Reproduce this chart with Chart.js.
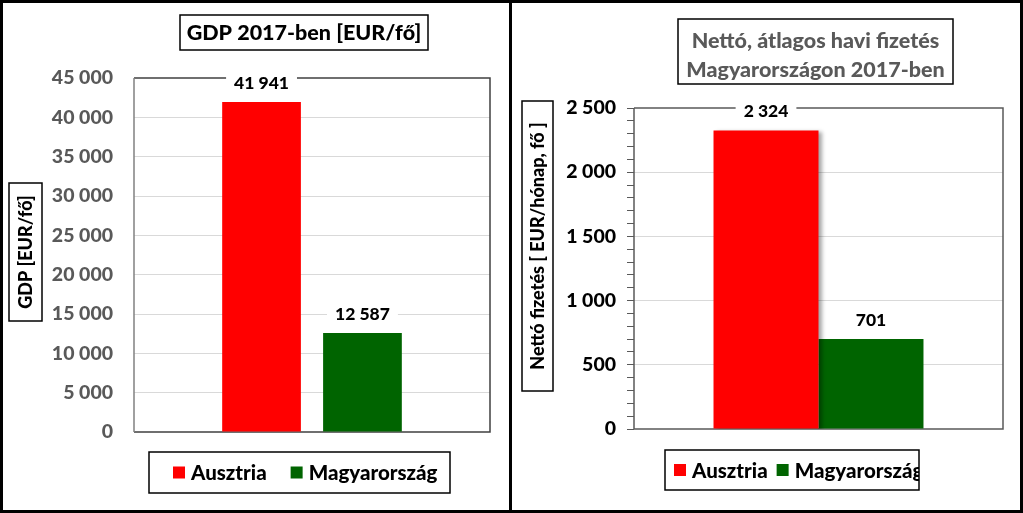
<!DOCTYPE html>
<html>
<head>
<meta charset="utf-8">
<script src="https://cdn.jsdelivr.net/npm/chart.js@4/dist/chart.umd.min.js"></script>
<style>
  body { margin: 0; background: #fff; }
  .panel { position: absolute; top: 0; height: 513px; border: 3px solid #000; box-sizing: border-box; background: #fff; }
  #p1 { left: 0; width: 512px; }
  #p2 { left: 509px; width: 514px; }
  canvas { display: block; }
</style>
</head>
<body>
<div class="panel" id="p1"><canvas id="gdp" width="506" height="507"></canvas></div>
<div class="panel" id="p2"><canvas id="ber" width="508" height="507"></canvas></div>
<script>
// adatok
const categories = ['2017'];
const seriesNames = ['Ausztria', 'Magyarország'];
const seriesColors = ['#ff0000', '#006400'];
const gdpAusztria = [41941];
const gdpMagyarorszag = [12587];
const berAusztria = [2324];
const berMagyarorszag = [701];
const gdpTicks = [0, 5000, 10000, 15000, 20000, 25000, 30000, 35000, 40000, 45000];
const berTicks = [0, 500, 1000, 1500, 2000, 2500];

const FONT = 'Lato, "Open Sans", sans-serif';
const W = '900 ';

function fmt(v) {
  return String(v).replace(/\B(?=(\d{3})+(?!\d))/g, ' ');
}

// keret, adatfeliratok, cim, tengelycim, jelmagyarazat
const deco = {
  id: 'deco',
  beforeDatasetsDraw(chart, args, o) {
    const { ctx, chartArea: a } = chart;
    ctx.save();
    ctx.lineWidth = 1.5;
    ctx.strokeStyle = o.frame;
    ctx.beginPath();
    ctx.moveTo(a.left, a.top);
    ctx.lineTo(a.right, a.top);
    ctx.lineTo(a.right, a.bottom);
    ctx.lineTo(a.left, a.bottom);
    ctx.stroke();
    ctx.strokeStyle = o.axis;
    ctx.beginPath();
    ctx.moveTo(a.left, a.top);
    ctx.lineTo(a.left, a.bottom);
    ctx.stroke();
    ctx.restore();
  },
  beforeDatasetDraw(chart, args, o) {
    if (o.shadow && args.index === 0) {
      const ctx = chart.ctx;
      ctx.save();
      ctx.shadowColor = 'rgba(0,0,0,0.35)';
      ctx.shadowBlur = 4;
      ctx.shadowOffsetX = 3;
      ctx.shadowOffsetY = 1;
    }
  },
  afterDatasetDraw(chart, args, o) {
    if (o.shadow && args.index === 0) chart.ctx.restore();
  },
  afterDatasetsDraw(chart, args, o) {
    const ctx = chart.ctx;
    ctx.save();
    ctx.font = W + '17.5px ' + FONT;
    ctx.textAlign = 'center';
    ctx.textBaseline = 'middle';
    chart.data.datasets.forEach((ds, i) => {
      const bar = chart.getDatasetMeta(i).data[0];
      const txt = fmt(ds.data[0]);
      const w = ctx.measureText(txt).width;
      const y = bar.y - 20;
      ctx.fillStyle = '#fff';
      ctx.fillRect(bar.x - w / 2 - 8, y - 10, w + 16, 20);
      ctx.fillStyle = '#000';
      ctx.fillText(txt, bar.x, y + 1);
    });
    ctx.restore();
  },
  afterDraw(chart, args, o) {
    const ctx = chart.ctx;
    ctx.save();
    ctx.lineWidth = 1.5;
    ctx.strokeStyle = '#000';

    // cim
    const t = o.title;
    ctx.strokeRect(t.x, t.y, t.w, t.h);
    ctx.font = W + t.size + 'px ' + FONT;
    ctx.fillStyle = t.color;
    ctx.textAlign = 'center';
    ctx.textBaseline = 'alphabetic';
    t.lines.forEach((line, i) => ctx.fillText(line, t.x + t.w / 2, t.base[i]));

    // y tengely cime
    const yt = o.yTitle;
    ctx.strokeRect(yt.x, yt.y, yt.w, yt.h);
    ctx.save();
    ctx.translate(yt.x + yt.w / 2, yt.y + yt.h / 2);
    ctx.rotate(-Math.PI / 2);
    ctx.font = W + yt.size + 'px ' + FONT;
    ctx.fillStyle = '#000';
    ctx.textBaseline = 'middle';
    ctx.fillText(yt.text, 0, 1);
    ctx.restore();

    // jelmagyarazat
    const l = o.legend;
    ctx.strokeRect(l.x, l.y, l.w, l.h);
    ctx.save();
    ctx.beginPath();
    ctx.rect(l.x, l.y, l.w, l.h);
    ctx.clip();
    ctx.font = W + l.size + 'px ' + FONT;
    ctx.textAlign = 'left';
    ctx.textBaseline = 'middle';
    let x = l.x + l.pad;
    const cy = l.y + l.h / 2;
    chart.data.datasets.forEach(ds => {
      ctx.fillStyle = ds.backgroundColor;
      ctx.fillRect(x, cy - 6, 12, 12);
      x += 18;
      ctx.fillStyle = '#000';
      ctx.fillText(ds.label, x, cy + 1);
      x += ctx.measureText(ds.label).width + l.gap;
    });
    ctx.restore();
    ctx.restore();
  }
};

// 1. GDP
new Chart(document.getElementById('gdp'), {
  type: 'bar',
  data: {
    labels: categories,
    datasets: [
      { label: seriesNames[0], data: gdpAusztria, backgroundColor: seriesColors[0] },
      { label: seriesNames[1], data: gdpMagyarorszag, backgroundColor: seriesColors[1] }
    ]
  },
  options: {
    responsive: false,
    animation: false,
    devicePixelRatio: 1,
    layout: { padding: { top: 75, bottom: 78, left: 0, right: 19 } },
    categoryPercentage: 0.567,
    barPercentage: 0.78,
    scales: {
      x: { display: false },
      y: {
        min: 0,
        max: 45000,
        afterFit: s => { s.width = 131; },
        ticks: {
          stepSize: 5000,
          padding: 21,
          color: '#595959',
          font: { family: FONT, size: 19.5, weight: '900' },
          callback: v => gdpTicks.includes(v) ? fmt(v) : ''
        },
        grid: {
          drawTicks: false,
          color: c => (c.tick && c.tick.value > 0 && c.tick.value < 45000) ? '#d9d9d9' : 'rgba(0,0,0,0)'
        },
        border: { display: false }
      }
    },
    plugins: {
      legend: { display: false },
      tooltip: { enabled: false },
      deco: {
        frame: '#404040',
        axis: '#808080',
        shadow: false,
        title: { x: 177, y: 12, w: 248, h: 35, size: 21.5, color: '#000', lines: ['GDP 2017-ben [EUR/fő]'], base: [37] },
        yTitle: { x: 6, y: 180, w: 33, h: 138, size: 18, text: 'GDP [EUR/fő]' },
        legend: { x: 146, y: 449, w: 301, h: 41, size: 20.5, pad: 24, gap: 24 }
      }
    }
  },
  plugins: [deco]
});

// 2. Netto fizetes
new Chart(document.getElementById('ber'), {
  type: 'bar',
  data: {
    labels: categories,
    datasets: [
      { label: seriesNames[0], data: berAusztria, backgroundColor: seriesColors[0] },
      { label: seriesNames[1], data: berMagyarorszag, backgroundColor: seriesColors[1] }
    ]
  },
  options: {
    responsive: false,
    animation: false,
    devicePixelRatio: 1,
    layout: { padding: { top: 105, bottom: 81, left: 0, right: 17 } },
    categoryPercentage: 0.569,
    barPercentage: 1.0,
    scales: {
      x: { display: false },
      y: {
        min: 0,
        max: 2500,
        afterFit: s => { s.width = 122; },
        ticks: {
          stepSize: 100,
          autoSkip: false,
          padding: 11,
          color: '#000',
          font: { family: FONT, size: 19.5, weight: '900' },
          callback: v => berTicks.includes(v) ? fmt(v) : ''
        },
        grid: {
          tickLength: 7,
          tickColor: '#595959',
          color: c => (c.tick && c.tick.value % 500 === 0 && c.tick.value > 0 && c.tick.value < 2500) ? '#d9d9d9' : 'rgba(0,0,0,0)'
        },
        border: { display: false }
      }
    },
    plugins: {
      legend: { display: false },
      tooltip: { enabled: false },
      deco: {
        frame: '#595959',
        axis: '#595959',
        shadow: true,
        title: { x: 166, y: 16, w: 275, h: 65, size: 21.5, color: '#595959', lines: ['Nettó, átlagos havi fizetés', 'Magyarországon 2017-ben'], base: [45, 74] },
        yTitle: { x: 10, y: 98, w: 31, h: 290, size: 18, text: 'Nettó fizetés [ EUR/hónap, fő ]' },
        legend: { x: 153, y: 447, w: 254, h: 40, size: 20.5, pad: 9, gap: 9 }
      }
    }
  },
  plugins: [deco]
});
</script>
</body>
</html>
